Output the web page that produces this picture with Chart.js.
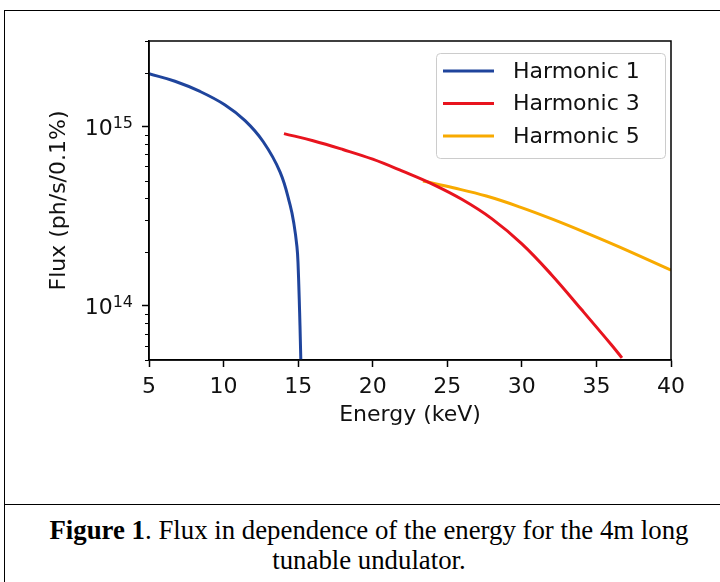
<!DOCTYPE html>
<html>
<head>
<meta charset="utf-8">
<title>Flux vs Energy</title>
<script src="https://cdn.jsdelivr.net/npm/chart.js@4.4.1/dist/chart.umd.min.js"></script>
<style>
    body { margin: 0; background: #fff; width: 720px; height: 582px; overflow: hidden; position: relative; }
    #frame { position: absolute; left: 4px; top: 10px; width: 800px; height: 700px; border: 1.5px solid #000; box-sizing: border-box; }
    #sep { position: absolute; left: 4px; top: 504px; width: 800px; border-top: 1.5px solid #000; }
    #chart { position: absolute; left: 0; top: 0; }
    #caption {
        position: absolute; left: 4px; top: 515px; width: 730px;
        font-family: "Liberation Serif", "Times New Roman", serif; font-size: 26.8px;
        line-height: 30px; text-align: center; color: #000;
    }
</style>
</head>
<body>
<div id="frame"></div>
<div id="sep"></div>
<canvas id="chart" width="720" height="505"></canvas>
<div id="caption"><b>Figure 1</b>. Flux in dependence of the energy for the 4m long<br>tunable undulator.</div>

<script>
// ====================================
// DATI
// ====================================

const seriesLabels = ['Harmonic 1', 'Harmonic 3', 'Harmonic 5'];
const seriesColors = ['#1f449c', '#e8141e', '#f8aa00'];

// Harmonic 1
const energyH1 = [5.0, 6.74, 8.42, 10.10, 11.44, 12.65, 13.79, 14.46, 14.72, 14.92, 14.99, 15.10, 15.145, 15.18];
const fluxH1   = [1.97e15, 1.79e15, 1.57e15, 1.32e15, 1.08e15, 8.26e14, 5.58e14, 3.66e14, 2.86e14, 2.14e14, 1.75e14, 9.2e13, 6.57e13, 5.0e13];

// Harmonic 3
const energyH3 = [14.05, 16, 18, 20, 22, 24, 26, 28, 30, 32, 34, 36, 36.71];
const fluxH3   = [9.14e14, 8.34e14, 7.45e14, 6.58e14, 5.64e14, 4.78e14, 3.92e14, 3.06e14, 2.22e14, 1.49e14, 9.55e13, 6.08e13, 5.14e13];

// Harmonic 5
const energyH5 = [23.37, 25.4, 27.62, 29.88, 32.09, 34.35, 36.56, 40.0];
const fluxH5   = [4.97e14, 4.56e14, 4.10e14, 3.56e14, 3.04e14, 2.55e14, 2.13e14, 1.585e14];

// Assi
const xMin = 5, xMax = 40, xStep = 5;
const yMin = 5e13, yMax = 3e15;
const yMajorTicks = [1e14, 1e15];
const yMajorBase = ['10', '10'];
const yMajorExp = ['14', '15'];
const yMinorTicks = [5e13, 6e13, 7e13, 8e13, 9e13,
                     2e14, 3e14, 4e14, 5e14, 6e14, 7e14, 8e14, 9e14,
                     2e15, 3e15];

const FONT = { family: 'DejaVu Sans', size: 22 };

function punti(xs, ys) {
    return xs.map((x, i) => ({ x: x, y: ys[i] }));
}

// Riquadro completo, tacche minori ed etichette 10^n
const cornicePlugin = {
    id: 'cornice',
    afterDraw(chart) {
        const { ctx, chartArea: a } = chart;
        const y = chart.scales.y;
        ctx.save();
        ctx.strokeStyle = '#000';
        ctx.lineWidth = 1;
        yMinorTicks.forEach(v => {
            const py = Math.round(y.getPixelForValue(v)) + 0.5;
            ctx.beginPath();
            ctx.moveTo(a.left - 4, py);
            ctx.lineTo(a.left, py);
            ctx.stroke();
        });
        ctx.lineWidth = 1.5;
        ctx.strokeRect(a.left, a.top, a.right - a.left, a.bottom - a.top);

        // etichette con esponente
        ctx.fillStyle = '#111';
        ctx.textAlign = 'right';
        ctx.textBaseline = 'alphabetic';
        yMajorTicks.forEach((v, i) => {
            const py = y.getPixelForValue(v);
            const right = a.left - 16;
            ctx.font = '16px "DejaVu Sans"';
            const wExp = ctx.measureText(yMajorExp[i]).width;
            ctx.fillText(yMajorExp[i], right, py + 1);
            ctx.font = FONT.size + 'px "' + FONT.family + '"';
            ctx.fillText(yMajorBase[i], right - wExp, py + 8);
        });
        ctx.restore();
    }
};

// Legenda in stile matplotlib (in alto a destra)
const legendaPlugin = {
    id: 'legenda',
    afterDraw(chart) {
        const { ctx, chartArea: a } = chart;
        const w = 229, h = 105;
        const x0 = a.right - 6 - w, y0 = a.top + 12;
        ctx.save();
        ctx.fillStyle = 'rgba(255,255,255,0.8)';
        ctx.strokeStyle = '#cccccc';
        ctx.lineWidth = 1;
        ctx.beginPath();
        ctx.roundRect(x0 + 0.5, y0 + 0.5, w, h, 4);
        ctx.fill();
        ctx.stroke();
        ctx.font = FONT.size + 'px "' + FONT.family + '"';
        ctx.textBaseline = 'middle';
        ctx.fillStyle = '#111';
        chart.data.datasets.forEach((ds, i) => {
            const cy = y0 + 18 + i * 32.5;
            ctx.strokeStyle = ds.borderColor;
            ctx.lineWidth = 3;
            ctx.beginPath();
            ctx.moveTo(x0 + 7, cy);
            ctx.lineTo(x0 + 58, cy);
            ctx.stroke();
            ctx.fillText(ds.label, x0 + 77, cy + 1);
        });
        ctx.restore();
    }
};

function creaGrafico() {
    const ctx = document.getElementById('chart');
    const serie = [punti(energyH1, fluxH1), punti(energyH3, fluxH3), punti(energyH5, fluxH5)];

    new Chart(ctx, {
        type: 'line',
        data: {
            datasets: serie.map((d, i) => ({
                label: seriesLabels[i],
                data: d,
                borderColor: seriesColors[i],
                borderWidth: 3,
                pointRadius: 0,
                fill: false,
                tension: 0.4,
                borderJoinStyle: 'round'
            }))
        },
        options: {
            responsive: false,
            animation: false,
            layout: { padding: { top: 41, right: 49, left: 0, bottom: 0 } },
            plugins: { legend: { display: false }, tooltip: { enabled: false } },
            scales: {
                x: {
                    type: 'linear',
                    min: xMin, max: xMax,
                    afterFit(scale) { scale.height = 145; },
                    ticks: { stepSize: xStep, font: FONT, color: '#111', padding: 7, maxRotation: 0 },
                    grid: { drawOnChartArea: false, tickLength: 7, tickWidth: 1.5, tickColor: '#000' },
                    border: { color: '#000', width: 1.5 },
                    title: { display: true, text: 'Energy (keV)', font: FONT, color: '#111', padding: { top: 0, bottom: 77 } }
                },
                y: {
                    type: 'logarithmic',
                    min: yMin, max: yMax,
                    afterFit(scale) { scale.width = 149; },
                    afterBuildTicks(scale) {
                        scale.ticks = yMajorTicks.concat(yMinorTicks).sort((a, b) => a - b).map(v => ({ value: v }));
                    },
                    ticks: { font: FONT, autoSkip: false, callback: () => '' },
                    grid: {
                        drawOnChartArea: false, tickLength: 7, tickWidth: 1.5,
                        tickColor: c => yMajorTicks.includes(c.tick.value) ? '#000' : 'rgba(0,0,0,0)'
                    },
                    border: { color: '#000', width: 1.5 },
                    title: { display: true, text: 'Flux (ph/s/0.1%)', font: FONT, color: '#111', padding: { top: 46, bottom: 0 } }
                }
            }
        },
        plugins: [cornicePlugin, legendaPlugin]
    });
}

document.addEventListener('DOMContentLoaded', creaGrafico);
</script>
</body>
</html>
